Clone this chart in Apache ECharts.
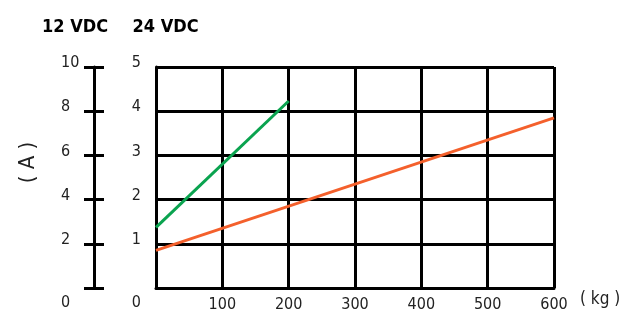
<!DOCTYPE html>
<html>
<head>
<meta charset="utf-8">
<script src="https://cdn.jsdelivr.net/npm/echarts@6/dist/echarts.min.js"></script>
<style>
  html, body { margin: 0; padding: 0; background: #fff; }
  #chart { width: 628px; height: 311px; }
</style>
</head>
<body>
<div id="chart"></div>
<script>
// load in kg, current in A (read on the 24 VDC scale)
const greenLoad = [0, 200];
const greenCurrent = [1.37, 4.23];
const orangeLoad = [0, 600];
const orangeCurrent = [0.85, 3.85];

const loadTicks = [0, 100, 200, 300, 400, 500, 600];
const ticks24 = [0, 1, 2, 3, 4, 5];
const ticks12 = [0, 2, 4, 6, 8, 10];

const FONT = "'DejaVu Sans Condensed', 'Liberation Sans Narrow', sans-serif";
const black = '#000';

function zeroLow(v) {
    return v === 0 ? '{z|' + v + '}' : '{n|' + v + '}';
}
const labelRich = {
    n: { fontFamily: FONT, fontSize: 16, color: '#222', padding: [0, 0, 8, 0] },
    z: { fontFamily: FONT, fontSize: 16, color: '#222', padding: [30, 0, 0, 0] }
};

const chartDom = document.getElementById('chart');
const chart = echarts.init(chartDom);
const option = {
    animation: false,
    grid: { left: 156, right: 74, top: 67, bottom: 23, containLabel: false, outerBoundsMode: 'none' },
    xAxis: {
        type: 'value',
        min: loadTicks[0],
        max: loadTicks[loadTicks.length - 1],
        interval: 100,
        name: '( kg )',
        nameLocation: 'end',
        nameGap: 26,
        nameTextStyle: { fontFamily: FONT, fontSize: 17, color: '#222', verticalAlign: 'top', padding: [3, 0, 0, 0] },
        axisLine: { show: true, lineStyle: { color: black, width: 3 } },
        axisTick: { show: false },
        splitLine: { show: true, lineStyle: { color: black, width: 3 } },
        axisLabel: { showMinLabel: false, margin: 9, fontFamily: FONT, fontSize: 16, color: '#222' }
    },
    yAxis: [
        {
            type: 'value',
            position: 'left',
            min: ticks24[0],
            max: ticks24[ticks24.length - 1],
            interval: 1,
            name: '24 VDC',
            nameLocation: 'end',
            nameGap: 31,
            nameTextStyle: { fontFamily: FONT, fontSize: 18, fontWeight: 'bold', color: '#000', padding: [0, 0, 0, 19] },
            axisLine: { show: true, lineStyle: { color: black, width: 3 } },
            axisTick: { show: false },
            splitLine: { show: true, lineStyle: { color: black, width: 3 } },
            axisLabel: { margin: 15, formatter: zeroLow, rich: labelRich }
        },
        {
            type: 'value',
            position: 'left',
            offset: 62,
            min: ticks12[0],
            max: ticks12[ticks12.length - 1],
            interval: 2,
            name: '12 VDC',
            nameLocation: 'end',
            nameGap: 31,
            nameTextStyle: { fontFamily: FONT, fontSize: 18, fontWeight: 'bold', color: '#000', padding: [0, 38, 0, 0] },
            axisLine: { show: true, lineStyle: { color: black, width: 3 } },
            axisTick: { show: true, inside: false, length: 10, lineStyle: { color: black, width: 3 } },
            splitLine: { show: false },
            axisLabel: { margin: 33, align: 'left', formatter: zeroLow, rich: labelRich }
        },
        {
            // inner half of the 12 VDC ticks and the unit label
            type: 'value',
            position: 'left',
            offset: 62,
            min: ticks12[0],
            max: ticks12[ticks12.length - 1],
            interval: 2,
            name: '( A )',
            nameLocation: 'middle',
            nameRotate: 90,
            nameGap: 55,
            nameTextStyle: { fontFamily: FONT, fontSize: 22, color: '#222', padding: [0, 0, 0, 30] },
            axisLine: { show: false },
            axisTick: { show: true, inside: true, length: 10, lineStyle: { color: black, width: 3 } },
            splitLine: { show: false },
            axisLabel: { show: false }
        }
    ],
    series: [
        {
            type: 'line',
            yAxisIndex: 0,
            symbol: 'none',
            data: greenLoad.map((x, i) => [x, greenCurrent[i]]),
            lineStyle: { color: '#0aa34f', width: 3 },
            z: 5
        },
        {
            type: 'line',
            yAxisIndex: 0,
            symbol: 'none',
            data: orangeLoad.map((x, i) => [x, orangeCurrent[i]]),
            lineStyle: { color: '#f4602c', width: 3 },
            z: 5
        }
    ]
};
chart.setOption(option);
window.addEventListener('resize', () => chart.resize());
</script>
</body>
</html>
